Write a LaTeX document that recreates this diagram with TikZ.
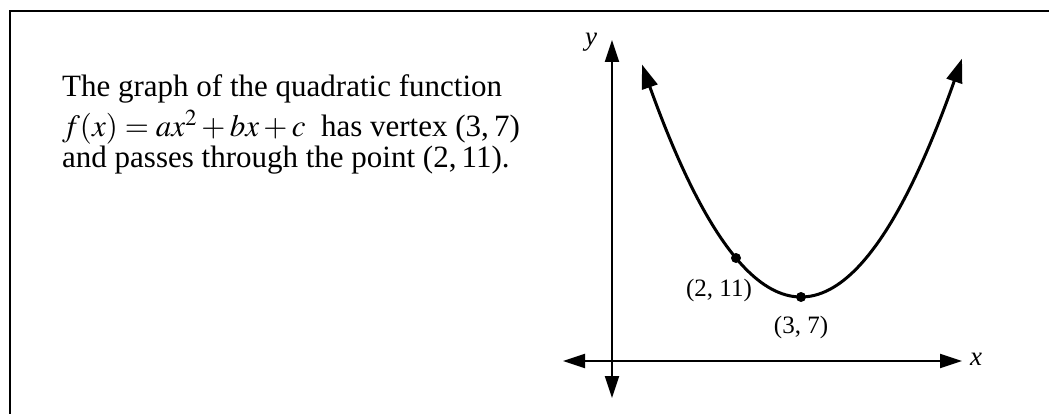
\documentclass[tikz,border=0pt]{standalone}
\usepackage{mathptmx}
\usepackage[no-math]{fontspec}
\setmainfont{Liberation Serif}
\usetikzlibrary{arrows.meta}
\tikzset{
  frameline/.style={line width=2.4pt},
  axisline/.style={line width=2pt, {Triangle[length=22pt,width=14pt]}-{Triangle[length=22pt,width=14pt]}},
  curveline/.style={line width=3pt, {Triangle[length=24pt,width=16pt]}-{Triangle[length=24pt,width=16pt]}},
  dot/.style={circle, fill=black, inner sep=0pt, minimum size=10pt},
  maintext/.style={anchor=base west, inner sep=0pt, font=\fontsize{31}{34}\selectfont},
  ptlabel/.style={inner sep=0pt, font=\fontsize{25}{28}\selectfont},
  axlabel/.style={inner sep=0pt, font=\fontsize{27}{30}\selectfont\itshape}
}
\begin{document}
\begin{tikzpicture}[x=1pt,y=-1pt]
\useasboundingbox (0,0) rectangle (1049,414);
% frame (left and top edges)
\coordinate (fl) at (10,414);
\coordinate (fc) at (10,11);
\coordinate (fr) at (1049,11);
\draw[frameline] (fl) -- (fc) -- (fr);
% text
\node[maintext] (t1) at (62,97) {The graph of the quadratic function};
\node[maintext] (t2) at (62,137) {$f(x)=ax^2+bx+c$\ \ has vertex (3,\,7)};
\node[maintext] (t3) at (62,168) {and passes through the point (2,\,11).};
% axes
\coordinate (yb) at (612,398);
\coordinate (yt) at (612,40);
\coordinate (xl) at (563,361);
\coordinate (xr) at (962,361);
\draw[axisline] (yb) -- (yt);
\draw[axisline] (xl) -- (xr);
\node[axlabel] (ylab) at (591,42) {y};
\node[axlabel] (xlab) at (976,359) {x};
% parabola
\draw[curveline] plot[domain=642:962, samples=90, smooth] (\x, {297-((\x-801)*0.0959)^2});
\node[dot] (p1) at (736,258) {};
\node[dot] (p2) at (801,297) {};
\node[ptlabel] (l1) at (719,290) {(2, 11)};
\node[ptlabel] (l2) at (801,327) {(3, 7)};
\end{tikzpicture}
\end{document}
